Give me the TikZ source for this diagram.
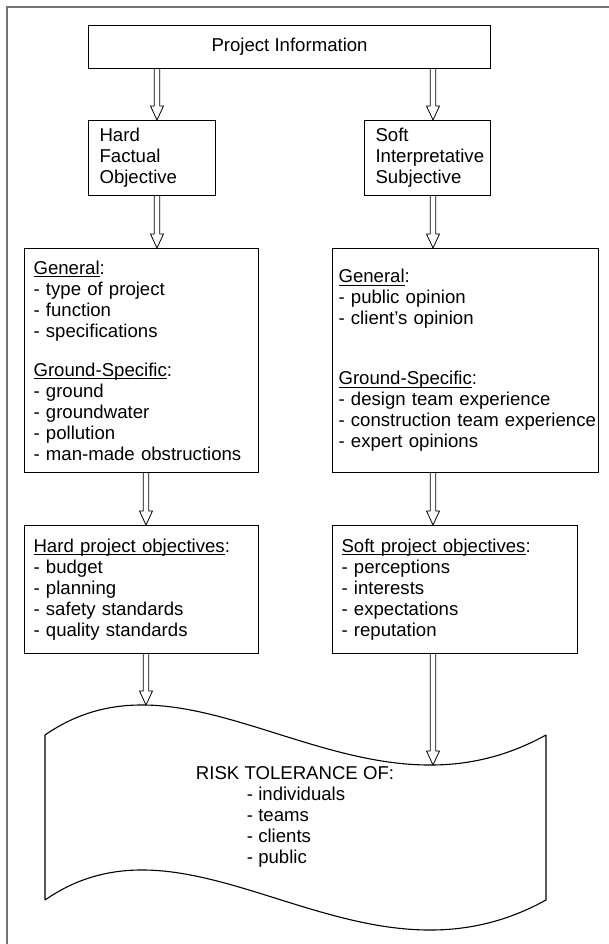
\documentclass[tikz,border=0pt]{standalone}
\usepackage{fontspec}
\setmainfont{Liberation Sans}
\usetikzlibrary{calc}
\newcommand\diagfont{\fontsize{18.6pt}{21pt}\selectfont}
% underline at a fixed depth below the baseline
\newcommand\undl[1]{\leavevmode\setbox0\hbox{#1}\rlap{\rule[-2.6pt]{\wd0}{0.9pt}}\box0}
\begin{document}
\begin{tikzpicture}[x=1pt,y=-1pt,
  box/.style={draw, line width=1.1pt, rectangle, anchor=north west,
    inner ysep=0pt, align=left, font=\diagfont},
  frameline/.style={draw={rgb,255:red,115;green,115;blue,115}, line width=2pt},
  tapeline/.style={draw, line width=1.1pt, line join=round},
  blockarrow/.style={draw, line width=0.8pt, to path={
    let \p1=(\tikztostart), \p2=(\tikztotarget) in
    (\x1-2.7pt,\y1) -- (\x1-2.7pt,\y2+14pt) -- (\x1-6.5pt,\y2+14pt) -- (\x2,\y2)
    -- (\x1+6.5pt,\y2+14pt) -- (\x1+2.7pt,\y2+14pt) -- (\x1+2.7pt,\y1)}}]
\useasboundingbox (0,0) rectangle (609,944);

% outer frame, top and left edges only
\draw[frameline] (7,944) -- (7,7) -- (609,7);

% arrow columns
\coordinate (colA) at (157,0);
\coordinate (colB) at (433,0);
\coordinate (colC) at (146,0);

\node[box, minimum width=402pt, minimum height=43pt, inner xsep=0pt, align=center] (pi) at (88,25) {Project Information};

\node[box, inner xsep=11pt, text width=105pt, minimum height=75pt] (hard) at (88,120)
  {Hard\\Factual\\Objective};
\node[box, inner xsep=11pt, text width=104pt, minimum height=75pt] (soft) at (364,120)
  {Soft\\Interpretative\\Subjective};

\node[box, inner xsep=9pt, text width=216pt, minimum height=224pt] (genL) at (24,248)
  {\undl{General}:\\- type of project\\- function\\- specifications\\[18pt]
   \undl{Ground-Specific}:\\- ground\\- groundwater\\- pollution\\- man-made obstructions};
\node[box, inner xsep=6pt, text width=254pt, minimum height=224pt] (genR) at (332,248)
  {\undl{General}:\\- public opinion\\- client’s opinion\\[39pt]
   \undl{Ground-Specific}:\\- design team experience\\\mbox{- construction team experience}\\- expert opinions};

\node[box, inner xsep=9pt, text width=216pt, minimum height=128pt] (objL) at (24,525)
  {\undl{Hard project objectives}:\\- budget\\- planning\\- safety standards\\- quality standards};
\node[box, inner xsep=9pt, text width=227pt, minimum height=128pt] (objR) at (332,525)
  {\undl{Soft project objectives}:\\- perceptions\\- interests\\- expectations\\- reputation};

% wavy tape
\draw[tapeline] (45,735) .. controls (195,631) and (358,839) .. (546,735)
  -- (546,900) .. controls (358,1004) and (195,796) .. (45,900) -- cycle;
\coordinate (peak) at (146,705);
\coordinate (trough) at (433,765);
\node[font=\diagfont, align=left, inner sep=0pt] (risk) at (295,817)
  {RISK TOLERANCE OF:\\
   \hspace*{51pt}- individuals\\
   \hspace*{51pt}- teams\\
   \hspace*{51pt}- clients\\
   \hspace*{51pt}- public};

% connectors
\draw[blockarrow] (pi.south -| colA) to (hard.north -| colA);
\draw[blockarrow] (pi.south -| colB) to (soft.north -| colB);
\draw[blockarrow] (hard.south -| colA) to (genL.north -| colA);
\draw[blockarrow] (soft.south -| colB) to (genR.north -| colB);
\draw[blockarrow] (genL.south -| colC) to (objL.north -| colC);
\draw[blockarrow] (genR.south -| colB) to (objR.north -| colB);
\draw[blockarrow] (objL.south -| peak) to (peak);
\draw[blockarrow] (objR.south -| trough) to (trough);
\end{tikzpicture}
\end{document}
